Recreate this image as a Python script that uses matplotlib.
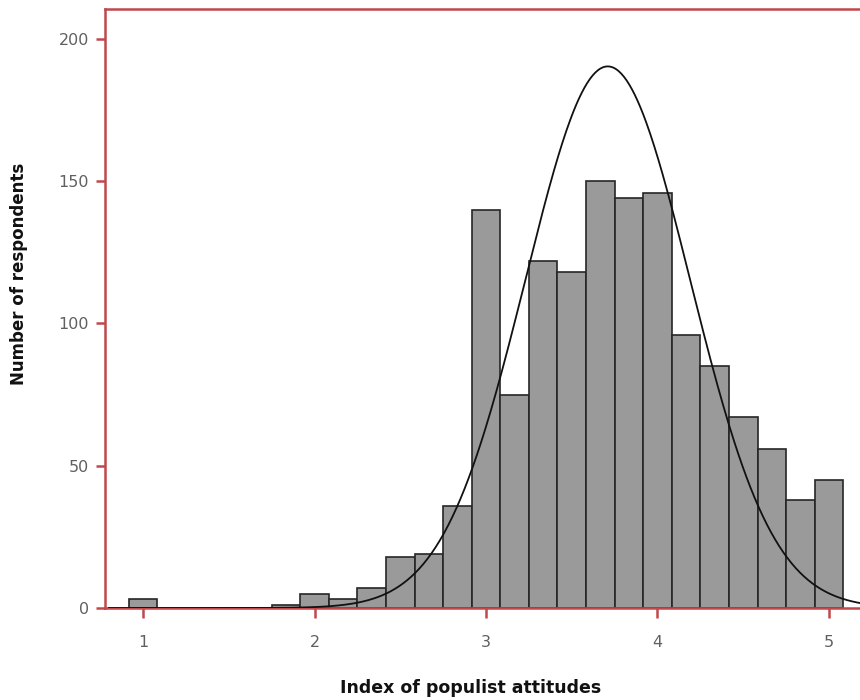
import numpy as np
import matplotlib
matplotlib.use('Agg')
import matplotlib.pyplot as plt

# histogram of the populist attitudes index (bin width 1/6)
bin_centers = [1.0, 1.833, 2.0, 2.167, 2.333, 2.5, 2.667, 2.833, 3.0, 3.167, 3.333,
               3.5, 3.667, 3.833, 4.0, 4.167, 4.333, 4.5, 4.667, 4.833, 5.0]
counts = [3, 1, 5, 3, 7, 18, 19, 36, 140, 75, 122,
          118, 150, 144, 146, 96, 85, 67, 56, 38, 45]
bin_width = 1 / 6

# fitted normal curve
fit_mean = 3.71
fit_sd = 0.48

x_ticks = [1, 2, 3, 4, 5]
y_ticks = [0, 50, 100, 150, 200]

spine_red = '#c0484b'
tick_grey = '#606060'

fig = plt.figure(figsize=(8.6, 7), dpi=100)
ax = fig.add_axes([105 / 860, 92 / 700, 755 / 860, 599 / 700])

ax.bar(bin_centers, counts, width=bin_width, align='center',
       color='#9a9a9a', edgecolor='#262626', linewidth=1.2, zorder=2)

n_total = sum(counts)
xs = np.linspace(0.8, 5.6, 600)
pdf = np.exp(-0.5 * ((xs - fit_mean) / fit_sd) ** 2) / (fit_sd * np.sqrt(2 * np.pi))
ax.plot(xs, n_total * bin_width * pdf, color='#111111', linewidth=1.3, zorder=3)

ax.set_xlim(0.778, 5.181)
ax.set_ylim(0, 210.5)
ax.set_xticks(x_ticks)
ax.set_yticks(y_ticks)

for side in ['top', 'left', 'bottom']:
    ax.spines[side].set_color(spine_red)
    ax.spines[side].set_linewidth(1.8)
ax.spines['right'].set_visible(False)

ax.tick_params(axis='x', direction='out', length=7.5, width=1.8, color=spine_red,
               labelsize=11.5, labelcolor=tick_grey, pad=12)
ax.tick_params(axis='y', direction='out', length=6.5, width=1.8, color=spine_red,
               labelsize=11.5, labelcolor=tick_grey, pad=5)

fig.text(471 / 860, 1 - 688 / 700, 'Index of populist attitudes', ha='center', va='center',
         fontsize=12.5, fontweight='bold', color='#111111')
fig.text(19 / 860, 1 - 274 / 700, 'Number of respondents', ha='center', va='center',
         rotation=90, fontsize=12, fontweight='bold', color='#111111')

fig.savefig('out.png', dpi=100)
